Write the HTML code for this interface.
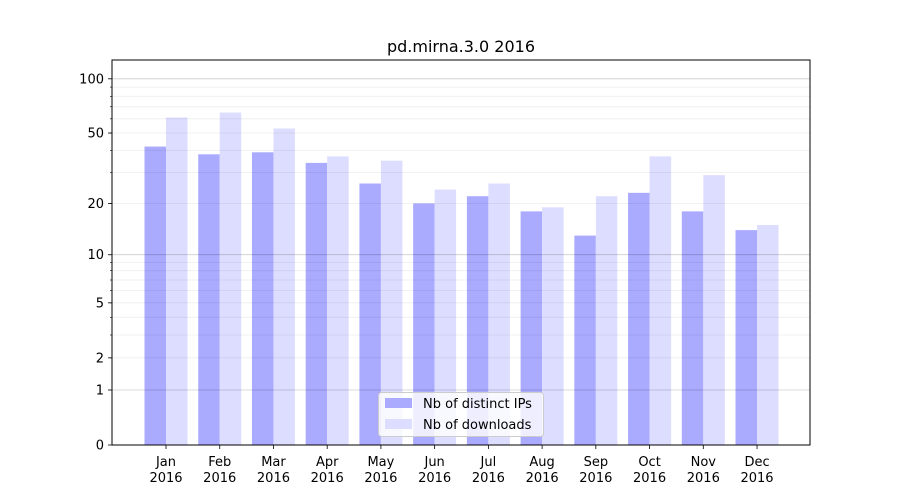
<!DOCTYPE html>
<html><head><meta charset="utf-8"><style>
body{margin:0;background:#fff;}
svg{display:block;font-family:"DejaVu Sans","Liberation Sans",sans-serif;}
</style></head><body>
<svg id="s" width="900" height="500" xmlns="http://www.w3.org/2000/svg"></svg>
<script>
const s=document.getElementById('s');
const Y=v=>445-182.7*Math.log10(1+v);
let h='<rect width="900" height="500" fill="#fff"/>';
const minors=[2,3,4,5,6,7,8,9,20,30,40,50,60,70,80,90];
const ip=[42,38,39,34,26,20,22,18,13,23,18,14];
const dl=[61,65,53,37,35,24,26,19,22,37,29,15];
const mon=['Jan','Feb','Mar','Apr','May','Jun','Jul','Aug','Sep','Oct','Nov','Dec'];
for(let i=0;i<12;i++){
 const c=166+i*53.73;
 const a=Y(ip[i]),b=Y(dl[i]);
 h+=`<rect x="${c-21.5}" y="${a}" width="21.5" height="${445-a}" fill="#aaaaff"/>`;
 h+=`<rect x="${c}" y="${b}" width="21.5" height="${445-b}" fill="#ddddff"/>`;
 h+=`<line x1="${c}" x2="${c}" y1="445" y2="449" stroke="#000" stroke-width="0.8"/>`;
 h+=`<text x="${c}" y="466" font-size="13" text-anchor="middle">${mon[i]}</text><text x="${c}" y="482" font-size="13" text-anchor="middle">2016</text>`;
}
for(const m of minors){h+=`<line x1="112" x2="810" y1="${Y(m).toFixed(1)}" y2="${Y(m).toFixed(1)}" stroke="#000" stroke-opacity="0.07" stroke-width="0.8"/>`;}
for(const m of [1,10,100]){h+=`<line x1="112" x2="810" y1="${Y(m).toFixed(1)}" y2="${Y(m).toFixed(1)}" stroke="#000" stroke-opacity="0.2" stroke-width="0.8"/>`;}
const ticks=[[0,'0'],[1,'1'],[2,'2'],[5,'5'],[10,'10'],[20,'20'],[50,'50'],[100,'100']];
for(const [v,t] of ticks){const y=Y(v);h+=`<line x1="108" x2="112" y1="${y}" y2="${y}" stroke="#000" stroke-width="0.8"/><text x="104" y="${y+4.5}" font-size="13" text-anchor="end">${t}</text>`;}
for(const m of minors){const y=Y(m);h+=`<line x1="110" x2="112" y1="${y}" y2="${y}" stroke="#000" stroke-width="0.6"/>`;}
h+='<rect x="112" y="60" width="698" height="385" fill="none" stroke="#000" stroke-width="1"/>';
h+='<text x="461" y="52" font-size="16" text-anchor="middle">pd.mirna.3.0 2016</text>';
h+='<rect x="378.5" y="392.5" width="165" height="44" rx="3" fill="#fff" fill-opacity="0.8" stroke="#ccc"/>';
h+='<rect x="385" y="398" width="27" height="10" fill="#aaaaff"/><text x="423" y="408" font-size="13">Nb of distinct IPs</text>';
h+='<rect x="385" y="419" width="27" height="10" fill="#ddddff"/><text x="423" y="429" font-size="13">Nb of downloads</text>';
s.innerHTML=h;
</script>
</body></html>
